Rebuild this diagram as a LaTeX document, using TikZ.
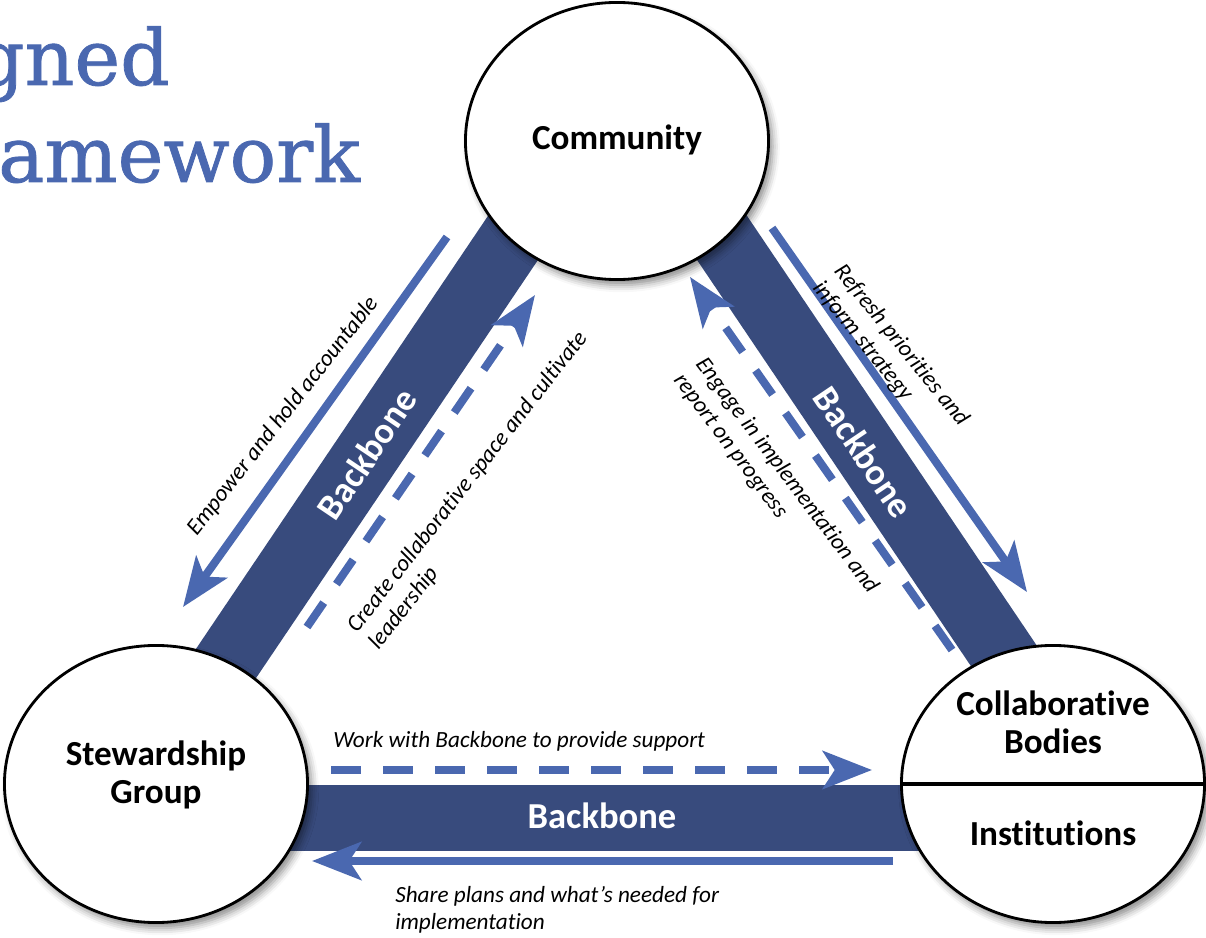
\documentclass[tikz,border=0pt]{standalone}
\usepackage{fontspec}
\setmainfont[Ligatures=NoCommon]{Carlito}
\newfontfamily\titlefont[FakeBold=1]{DejaVu Serif}
\usetikzlibrary{arrows.meta,shapes.geometric,shadows.blur}
\definecolor{bandblue}{RGB}{56,75,125}
\definecolor{arrowblue}{RGB}{74,104,176}
\tikzset{
  band/.style={line width=47pt, draw=bandblue},
  flow/.style={line width=5.7pt, draw=arrowblue,
    -{Stealth[length=35pt,width=27pt,inset=8.5pt]}},
  flowdash/.style={flow, dash pattern=on 21pt off 16pt},
  party/.style={ellipse, draw, line width=2pt, fill=white,
    minimum width=7.575cm, minimum height=6.925cm,
    blur shadow={shadow xshift=3pt, shadow yshift=-4pt,
      shadow blur radius=5pt, shadow opacity=45}},
  partylabel/.style={font=\fontsize{25}{27}\selectfont\bfseries, align=center},
  bandlabel/.style={text=white, font=\fontsize{26}{28}\selectfont\bfseries},
  flowlabel/.style={font=\fontsize{16.5}{19.5}\selectfont\itshape, align=left, inner sep=0pt},
  heading/.style={font=\titlefont\fontsize{55}{60}\selectfont, text=arrowblue, inner sep=0pt}
}
\begin{document}
\begin{tikzpicture}[x=0.025cm,y=-0.025cm]
\clip (0,0) rectangle (1206,938);

% title, cut at the left edge
\node[heading, anchor=base east] (titleA) at (170,85) {gned};
\node[heading, anchor=base west] (titleB) at (-2,182) {amework};

% backbone bands
\coordinate (bandL1) at (140,791);
\coordinate (bandL2) at (548,186);
\coordinate (bandR1) at (1095,791);
\coordinate (bandR2) at (687,186);
\coordinate (bandB1) at (156,818);
\coordinate (bandB2) at (1053,818);
\draw[band] (bandL1) -- (bandL2);
\draw[band] (bandR1) -- (bandR2);
\draw[band] (bandB1) -- (bandB2);
\node[bandlabel, rotate=56] (bbL) at (367,454) {Backbone};
\node[bandlabel, rotate=-56] (bbR) at (864,452) {Backbone};
\node[bandlabel] (bbB) at (602,816) {Backbone};

% flows
\coordinate (empS) at (447,237);
\coordinate (empE) at (183,607);
\coordinate (creS) at (307,627);
\coordinate (creE) at (535,295);
\coordinate (refS) at (772,228);
\coordinate (refE) at (1027,592);
\coordinate (engS) at (952,650);
\coordinate (engE) at (690,277);
\coordinate (wrkS) at (331,770);
\coordinate (wrkE) at (872,770);
\coordinate (shrS) at (893,861);
\coordinate (shrE) at (312,861);
\draw[flow] (empS) -- (empE);
\draw[flowdash] (creS) -- (creE);
\draw[flow] (refS) -- (refE);
\draw[flowdash] (engS) -- (engE);
\draw[flowdash] (wrkS) -- (wrkE);
\draw[flow] (shrS) -- (shrE);

\node[flowlabel, rotate=52] (empLbl) at (283,416) {Empower and hold accountable};
\node[flowlabel, rotate=52, anchor=north west] (creLbl) at (344,624)
  {Create collaborative space and cultivate\\leadership};
\node[flowlabel, rotate=-51, anchor=north west] (refLbl) at (846,261)
  {Refresh priorities and\\inform strategy};
\node[flowlabel, rotate=-53, anchor=north west] (engLbl) at (708,354)
  {Engage in implementation and\\report on progress};
\node[flowlabel, anchor=base west] (wrkLbl) at (333,747)
  {Work with Backbone to provide support};
\node[flowlabel, anchor=north west] (shrLbl) at (395,886)
  {Share plans and what’s needed for\\implementation};

% the three groups
\node[party] (comm) at (617,141) {};
\node[party] (stew) at (156,784) {};
\node[party] (coll) at (1053,784) {};
\draw[line width=2.6pt] (coll.west) -- (coll.east);
\node[partylabel] (commLbl) at (617,140) {Community};
\node[partylabel] (stewLbl) at (156,775) {Stewardship\\Group};
\node[partylabel] (collLbl) at (1053,722) {Collaborative\\Bodies};
\node[partylabel] (instLbl) at (1053,833) {Institutions};
\end{tikzpicture}
\end{document}
